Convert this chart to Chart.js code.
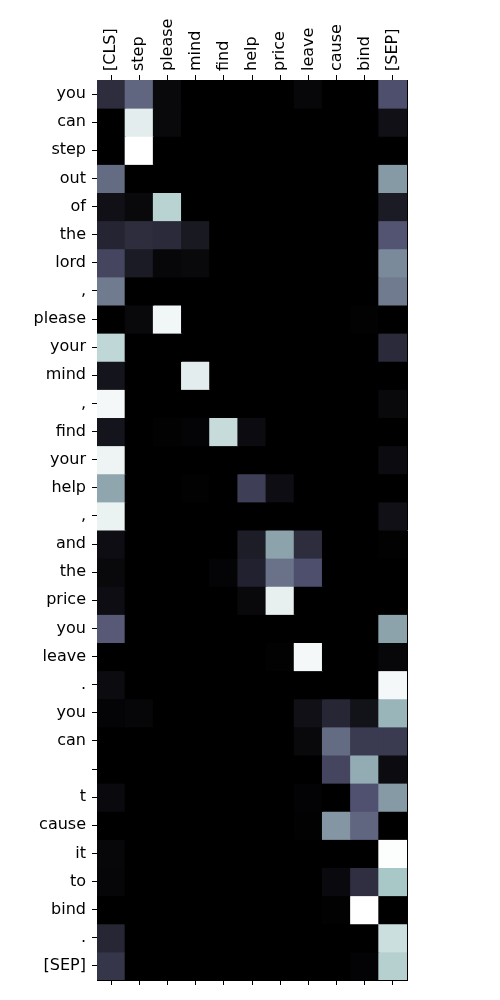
<!DOCTYPE html>
<html>
<head>
<meta charset="utf-8">
<script src="https://cdn.jsdelivr.net/npm/chart.js@4"></script>
<style>
html,body{margin:0;padding:0;background:#fff;}
#wrap{width:500px;height:1000px;position:relative;}
</style>
</head>
<body>
<div id="wrap"><canvas id="c"></canvas></div>
<script>
const columns = ["[CLS]","step","please","mind","find","help","price","leave","cause","bind","[SEP]"];
const rows = ["you","can","step","out","of","the","lord",",","please","your","mind",",","find","your","help",",","and","the","price","you","leave",".","you","can","","t","cause","it","to","bind",".","[SEP]"];

// attention weights (normalised 0..1), one array per row, in column order
const r00 = [0.20,0.43,0.04,0,0,0,0,0.03,0,0,0.35];
const r01 = [0,0.92,0.04,0,0,0,0,0,0,0,0.07];
const r02 = [0,1.00,0,0,0,0,0,0,0,0,0];
const r03 = [0.45,0,0,0,0,0,0,0,0,0,0.60];
const r04 = [0.07,0.04,0.80,0,0,0,0,0,0,0,0.12];
const r05 = [0.16,0.20,0.19,0.11,0,0,0,0,0,0,0.37];
const r06 = [0.31,0.12,0.03,0.04,0,0,0,0,0,0,0.55];
const r07 = [0.50,0,0,0,0,0,0,0,0,0,0.50];
const r08 = [0,0.04,0.96,0,0,0,0,0,0,0.01,0];
const r09 = [0.82,0,0,0,0,0,0,0,0,0,0.19];
const r10 = [0.09,0,0,0.92,0,0,0,0,0,0,0];
const r11 = [0.97,0,0,0,0,0,0,0,0,0,0.04];
const r12 = [0.09,0,0.01,0.02,0.84,0.05,0,0,0,0,0];
const r13 = [0.95,0,0,0,0,0,0,0,0,0,0.05];
const r14 = [0.64,0,0,0.01,0,0.28,0.06,0,0,0,0];
const r15 = [0.94,0,0,0,0,0,0,0,0,0,0.07];
const r16 = [0.06,0,0,0,0,0.13,0.63,0.20,0,0,0.01];
const r17 = [0.04,0,0,0,0.02,0.15,0.47,0.35,0,0,0];
const r18 = [0.06,0,0,0,0,0.04,0.93,0,0,0,0];
const r19 = [0.39,0,0,0,0,0,0,0,0,0,0.63];
const r20 = [0,0,0,0,0,0,0.01,0.97,0,0,0.03];
const r21 = [0.05,0,0,0,0,0,0,0,0,0,0.97];
const r22 = [0.02,0.025,0,0,0,0,0,0.07,0.17,0.08,0.69];
const r23 = [0,0,0,0,0,0,0,0.04,0.45,0.26,0.26];
const r24 = [0,0,0,0,0,0,0,0,0.31,0.66,0.05];
const r25 = [0.045,0,0,0,0,0,0,0.015,0,0.36,0.60];
const r26 = [0,0,0,0,0,0,0,0.01,0.59,0.43,0];
const r27 = [0.03,0,0,0,0,0,0,0,0,0,0.99];
const r28 = [0.025,0,0,0,0,0,0,0,0.045,0.21,0.75];
const r29 = [0,0,0,0,0,0,0,0,0.01,1.00,0];
const r30 = [0.17,0,0,0,0,0,0,0,0,0,0.855];
const r31 = [0.24,0,0,0,0,0,0,0,0,0.015,0.79];

const values = [r00,r01,r02,r03,r04,r05,r06,r07,r08,r09,r10,r11,r12,r13,r14,r15,r16,r17,r18,r19,r20,r21,r22,r23,r24,r25,r26,r27,r28,r29,r30,r31];

// matplotlib "bone" colormap
function interp(segs, v){
  for (let i=1;i<segs.length;i++){
    if (v <= segs[i][0]){
      const [x0,y0] = segs[i-1], [x1,y1] = segs[i];
      return y0 + (v-x0)/(x1-x0)*(y1-y0);
    }
  }
  return segs[segs.length-1][1];
}
const boneR = [[0,0],[0.746032,0.652778],[1,1]];
const boneG = [[0,0],[0.365079,0.319444],[0.746032,0.777778],[1,1]];
const boneB = [[0,0],[0.365079,0.444444],[1,1]];
function bone(v){
  v = Math.max(0, Math.min(1, v));
  const r = Math.round(interp(boneR,v)*255);
  const g = Math.round(interp(boneG,v)*255);
  const b = Math.round(interp(boneB,v)*255);
  return `rgb(${r},${g},${b})`;
}

const datasets = rows.map((name, i) => ({
  label: name,
  data: columns.map(() => 1),
  backgroundColor: values[i].map(bone),
  borderWidth: 0,
  barPercentage: 1,
  categoryPercentage: 1,
  inflateAmount: 0.5
}));

const FS = 16;
const font = { family: "'DejaVu Sans'", size: FS, lineHeight: 1.2 };
const tickGrid = { display: true, drawOnChartArea: false, drawTicks: true, tickLength: 5, color: '#000', tickWidth: 1, offset: false };
const border = { display: true, color: '#000', width: 1 };

new Chart(document.getElementById('c'), {
  type: 'bar',
  data: { labels: columns, datasets },
  options: {
    responsive: true,
    maintainAspectRatio: false,
    animation: false,
    layout: { padding: 0 },
    plugins: { legend: { display: false }, tooltip: { enabled: false } },
    scales: {
      x: {
        type: 'category', position: 'top', stacked: true, offset: true,
        grid: tickGrid, border,
        ticks: { color: '#000', font, minRotation: 90, maxRotation: 90, padding: 4, autoSkip: false, labelOffset: FS * 1.2 },
        afterFit: s => { s.height = 80; }
      },
      xb: {
        type: 'category', position: 'bottom', labels: columns, offset: true,
        grid: tickGrid, border,
        ticks: { display: false },
        afterFit: s => { s.height = 20; }
      },
      y: {
        type: 'linear', stacked: true, min: 0, max: rows.length, reverse: true, display: false
      },
      yl: {
        type: 'category', position: 'left', labels: rows, offset: true,
        grid: tickGrid, border,
        ticks: { color: '#000', font, padding: 6, autoSkip: false },
        afterFit: s => { s.width = 97; }
      },
      yr: {
        type: 'linear', position: 'right', min: 0, max: 1,
        grid: { display: false }, border,
        ticks: { display: false },
        afterFit: s => { s.width = 93; }
      }
    }
  }
});
</script>
</body>
</html>
